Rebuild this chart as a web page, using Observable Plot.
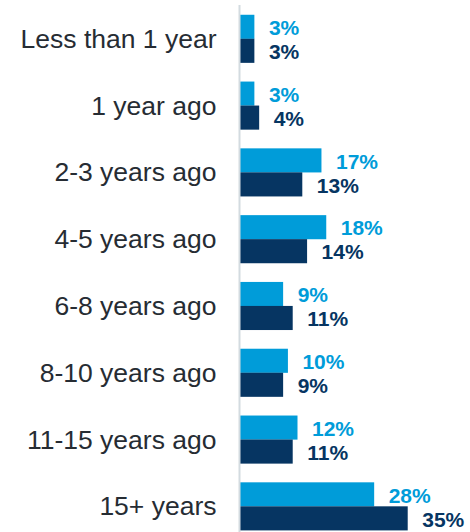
<!DOCTYPE html>
<html>
<head>
<meta charset="utf-8">
<script src="https://cdn.jsdelivr.net/npm/d3@7"></script>
<script src="https://cdn.jsdelivr.net/npm/@observablehq/plot@0.6"></script>
<style>
  html, body { margin: 0; padding: 0; background: #ffffff; }
  #chart { width: 470px; height: 532px; }
</style>
</head>
<body>
<div id="chart"></div>
<script>
const categories = ["Less than 1 year", "1 year ago", "2-3 years ago", "4-5 years ago", "6-8 years ago", "8-10 years ago", "11-15 years ago", "15+ years"];
const seriesA = [3, 3, 17, 18, 9, 10, 12, 28];
const seriesB = [3, 4, 13, 14, 11, 9, 11, 35];

const lightColor = "#009cd9";
const darkColor = "#063562";

const dataA = categories.map((c, i) => ({category: c, value: seriesA[i]}));
const dataB = categories.map((c, i) => ({category: c, value: seriesB[i]}));

const half = 24;

const chart = Plot.plot({
  width: 470,
  height: 532,
  marginLeft: 240,
  marginRight: 0,
  marginTop: 5,
  marginBottom: 0,
  style: {fontFamily: "Arial, 'Liberation Sans', sans-serif", background: "#ffffff"},
  x: {domain: [0, 48], axis: null},
  y: {domain: categories, paddingInner: 0.28, paddingOuter: 0.085, align: 0.86, round: false, label: null},
  marks: [
    Plot.axisY({tickSize: 0, tickPadding: 24, fontSize: 26.5, fill: "#262c33", label: null}),
    Plot.barX(dataA, {x: "value", y: "category", fill: lightColor, insetBottom: half, insetTop: 0}),
    Plot.barX(dataB, {x: "value", y: "category", fill: darkColor, insetTop: half, insetBottom: 0}),
    Plot.ruleX([0], {stroke: "#d3dbe0", strokeWidth: 2, dx: -1}),
    Plot.text(dataA, {x: "value", y: "category", text: d => d.value + "%", dx: 14, dy: -11, textAnchor: "start", fill: lightColor, fontWeight: "bold", fontSize: 21}),
    Plot.text(dataB, {x: "value", y: "category", text: d => d.value + "%", dx: 14, dy: 13, textAnchor: "start", fill: darkColor, fontWeight: "bold", fontSize: 21})
  ]
});
document.getElementById("chart").appendChild(chart);
</script>
</body>
</html>
